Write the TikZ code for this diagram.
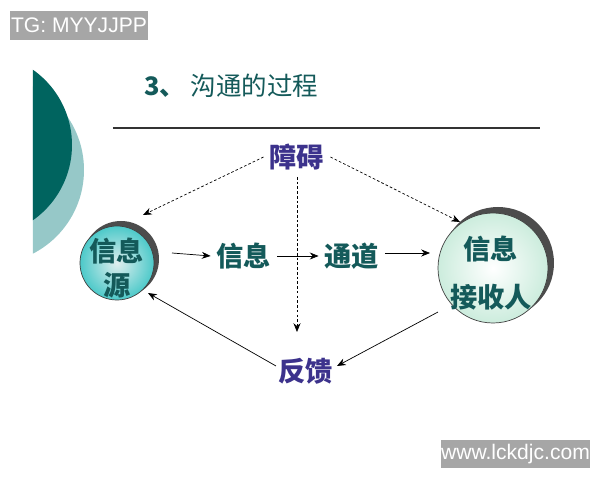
\documentclass[tikz,border=0pt]{standalone}
\usepackage{fontspec}
\setmainfont{Liberation Sans}
\newfontfamily\cjk{Noto Sans CJK SC}
\usetikzlibrary{arrows.meta}
\definecolor{teal1}{RGB}{0,100,95}
\definecolor{teal2}{RGB}{150,200,200}
\definecolor{tt}{RGB}{20,90,90}
\definecolor{pp}{RGB}{60,50,140}
\begin{document}
\begin{tikzpicture}[x=0.02cm,y=-0.02cm,
 lbl/.style={font=\cjk\bfseries\fontsize{15.5}{18}\selectfont,text=tt},
 arr/.style={-{Stealth[length=5pt,width=4pt]},thin},
 dot/.style={-{Stealth[length=5pt,width=4pt]},dash pattern=on 1.5pt off 1.2pt,thin},
 wm/.style={fill=gray!70,text=white,font=\fontsize{12}{14}\selectfont,inner sep=0pt}]
\useasboundingbox (0,0) rectangle (600,480);
\fill[white] (0,0) rectangle (600,480);
\begin{scope}
\clip (33,0) rectangle (200,480);
\fill[teal2] (-10,170) circle (94);
\fill[teal1] (-20,145) circle (92);
\end{scope}
\node[wm,minimum width=138*0.02cm,minimum height=29*0.02cm] (tg) at (79,25.5) {TG: MYYJJPP};
\node[wm,minimum width=149*0.02cm,minimum height=28*0.02cm] (www) at (515.5,454) {www.lckdjc.com};
\node[font=\cjk\fontsize{14.5}{17}\selectfont,text=tt,anchor=west] (title) at (138,86) {\textbf{3、}\ 沟通的过程};
\draw[thick,gray!40!black] (113,128) coordinate (l1) -- (540,128) coordinate (l2);
% circles
\fill[gray!60!black] (121,259) circle (38);
\shade[inner color=teal2!30,outer color=teal!60!cyan!70] (117,263) circle (37);
\draw[gray!50!black] (117,263) circle (37);
\node[lbl,align=center,font=\cjk\bfseries\fontsize{15.5}{19}\selectfont] (src) at (117,268) {信息\\源};
\fill[gray!60!black] (498,263) circle (56);
\shade[inner color=white,outer color=green!15!teal2!40] (493,268) circle (55);
\draw[gray!50!black] (493,268) circle (55);
\node[lbl,align=center,font=\cjk\bfseries\fontsize{15.5}{27}\selectfont] (dst) at (491,273) {信息\\接收人};
\node[lbl] (msg) at (244,256) {信息};
\node[lbl] (ch) at (352,256) {通道};
\node[lbl,text=pp] (bar) at (297,157) {障碍};
\node[lbl,text=pp] (fb) at (306,371) {反馈};
\coordinate (a1) at (172,253); \coordinate (a2) at (385,253); \coordinate (a3) at (430,253);
\draw[arr] (a1) -- (msg.west);
\draw[arr] (msg.east) -- (ch.west);
\draw[arr] (a2) -- (a3);
\coordinate (d1) at (143,215); \coordinate (d2) at (460,222);
\coordinate (v1) at (297,177); \coordinate (v2) at (297,332);
\draw[dot] (bar.west) -- (d1);
\draw[dot] (bar.east) -- (d2);
\draw[dot] (v1) -- (v2);
\coordinate (f1) at (438,312); \coordinate (f2) at (337,366);
\coordinate (f3) at (276,366); \coordinate (f4) at (148,293);
\draw[arr] (f1) -- (f2);
\draw[arr] (f3) -- (f4);
\end{tikzpicture}
\end{document}
